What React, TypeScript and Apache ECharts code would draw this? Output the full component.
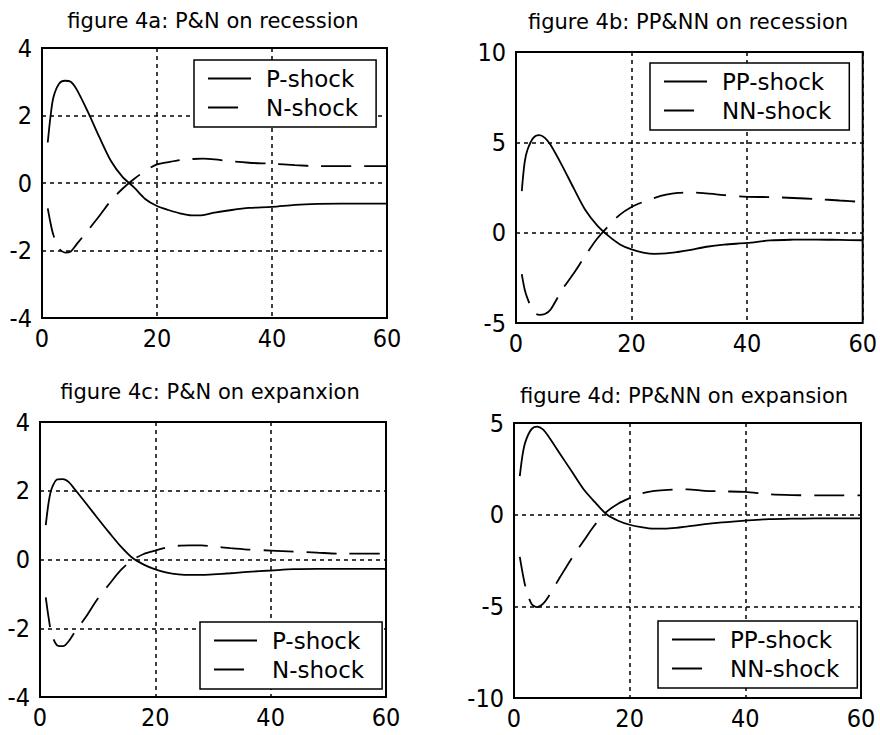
import React, { useEffect, useRef } from "react";
import * as echarts from "echarts";

// horizons (x values) at which the impulse responses are read
const horizon = [1, 1.5, 2, 3, 4, 5, 6, 8, 10, 12, 14, 16, 18, 20, 22, 24, 26, 28, 30, 33, 36, 40, 44, 48, 52, 56, 60];

// figure 4a: P&N on recession
const aPShock = [1.2, 2.0, 2.55, 2.95, 3.03, 3.0, 2.78, 2.1, 1.35, 0.65, 0.18, -0.13, -0.48, -0.68, -0.8, -0.9, -0.96, -0.95, -0.88, -0.8, -0.74, -0.71, -0.65, -0.62, -0.61, -0.61, -0.61];
const aNShock = [-0.75, -1.2, -1.55, -1.95, -2.06, -2.03, -1.82, -1.4, -0.97, -0.52, -0.17, 0.12, 0.36, 0.55, 0.62, 0.68, 0.71, 0.72, 0.7, 0.64, 0.6, 0.57, 0.53, 0.5, 0.5, 0.5, 0.5];

// figure 4b: PP&NN on recession
const bPPShock = [2.3, 3.9, 4.6, 5.25, 5.4, 5.25, 4.85, 3.7, 2.45, 1.25, 0.42, -0.18, -0.65, -0.93, -1.1, -1.17, -1.15, -1.07, -0.97, -0.78, -0.66, -0.57, -0.43, -0.39, -0.38, -0.4, -0.42];
const bNNShock = [-2.3, -3.15, -3.65, -4.35, -4.55, -4.5, -4.25, -3.15, -2.25, -1.27, -0.35, 0.37, 1.0, 1.42, 1.7, 1.93, 2.1, 2.2, 2.23, 2.17, 2.08, 1.98, 1.97, 1.92, 1.86, 1.78, 1.7];

// figure 4c: P&N on expanxion
const cPShock = [1.0, 1.66, 2.05, 2.33, 2.34, 2.25, 2.05, 1.63, 1.2, 0.78, 0.38, 0.05, -0.15, -0.29, -0.38, -0.43, -0.45, -0.45, -0.43, -0.4, -0.36, -0.32, -0.28, -0.27, -0.27, -0.27, -0.27];
const cNShock = [-1.1, -1.7, -2.15, -2.5, -2.52, -2.37, -2.12, -1.66, -1.14, -0.72, -0.31, -0.02, 0.16, 0.26, 0.35, 0.4, 0.41, 0.41, 0.38, 0.33, 0.29, 0.26, 0.23, 0.2, 0.17, 0.17, 0.17];

// figure 4d: PP&NN on expansion
const dPPShock = [2.1, 3.3, 4.0, 4.65, 4.8, 4.65, 4.25, 3.3, 2.35, 1.4, 0.68, 0.02, -0.33, -0.55, -0.68, -0.76, -0.76, -0.72, -0.64, -0.52, -0.42, -0.32, -0.24, -0.22, -0.2, -0.2, -0.2];
const dNNShock = [-2.3, -3.2, -3.95, -4.85, -5.04, -4.87, -4.45, -3.39, -2.37, -1.45, -0.55, 0.15, 0.6, 0.9, 1.15, 1.28, 1.34, 1.37, 1.38, 1.3, 1.27, 1.24, 1.12, 1.07, 1.05, 1.05, 1.05];

const titles = [
  "figure 4a: P&N on recession",
  "figure 4b: PP&NN on recession",
  "figure 4c: P&N on expanxion",
  "figure 4d: PP&NN on expansion",
];
const yRanges = [
  [-4, 4, 2],
  [-5, 10, 5],
  [-4, 4, 2],
  [-10, 5, 5],
];
const xRange = [0, 60, 20];
const seriesNames = [
  ["P-shock", "N-shock"],
  ["PP-shock", "NN-shock"],
  ["P-shock", "N-shock"],
  ["PP-shock", "NN-shock"],
];
const seriesValues = [
  [aPShock, aNShock],
  [bPPShock, bNNShock],
  [cPShock, cNShock],
  [dPPShock, dNNShock],
];

// layout (pixels)
const grids = [
  { left: 42, top: 48, width: 345, height: 270 },
  { left: 516, top: 52, width: 347, height: 271 },
  { left: 40, top: 422, width: 346, height: 275 },
  { left: 514, top: 423, width: 347, height: 275 },
];
const titlePos = [
  { x: 213, y: 21 },
  { x: 688, y: 22 },
  { x: 210, y: 392 },
  { x: 684, y: 396 },
];
const legendPos = [
  { left: 194, top: 60 },
  { left: 650, top: 63 },
  { left: 200, top: 622 },
  { left: 658, top: 621 },
];

const FONT = "DejaVu Sans";
const TICK_FONT = "'Liberation Sans Narrow', 'DejaVu Sans Condensed', 'DejaVu Sans'";
const INK = "#000";

export default function App() {
  const ref = useRef<HTMLDivElement>(null);
  useEffect(() => {
    if (!ref.current) return;
    const chart = echarts.init(ref.current, undefined, { renderer: "svg" });
    const option: any = {
      animation: false,
      backgroundColor: "#fff",
      graphic: titles.map((t, i) => ({
        type: "text",
        x: titlePos[i].x,
        y: titlePos[i].y,
        silent: true,
        style: {
          text: t,
          fill: INK,
          fontFamily: FONT,
          fontSize: 21,
          align: "center",
          verticalAlign: "middle",
        },
      })),
      grid: grids.map((g) => ({ ...g, show: true, borderColor: INK, borderWidth: 2, backgroundColor: "#fff" })),
      xAxis: grids.map((_, i) => ({
        type: "value",
        gridIndex: i,
        min: xRange[0],
        max: xRange[1],
        interval: xRange[2],
        axisLine: { show: false },
        axisTick: { show: false },
        axisLabel: { color: INK, fontFamily: TICK_FONT, fontSize: 25, margin: 8 },
        splitLine: { show: true, lineStyle: { color: INK, type: [4, 4], width: 1.5 } },
      })),
      yAxis: grids.map((_, i) => ({
        type: "value",
        gridIndex: i,
        min: yRanges[i][0],
        max: yRanges[i][1],
        interval: yRanges[i][2],
        axisLine: { show: false },
        axisTick: { show: false },
        axisLabel: { color: INK, fontFamily: TICK_FONT, fontSize: 25, margin: 10 },
        splitLine: { show: true, lineStyle: { color: INK, type: [4, 4], width: 1.5 } },
      })),
      legend: legendPos.map((p, i) => ({
        data: seriesNames[i],
        left: p.left,
        top: p.top,
        orient: "vertical",
        selectedMode: false,
        backgroundColor: "#fff",
        borderColor: INK,
        borderWidth: 1.5,
        borderRadius: 0,
        padding: [7, 18, 8, 13],
        itemGap: 6,
        itemWidth: 43,
        itemHeight: 14,
        itemStyle: { opacity: 0, color: "rgba(0,0,0,0)", borderWidth: 0 },
        textStyle: { color: INK, fontFamily: FONT, fontSize: 23, padding: [0, 0, 0, 10] },
      })),
      series: seriesValues.flatMap((pair, i) =>
        pair.map((vals, k) => ({
          type: "line",
          name: seriesNames[i][k],
          xAxisIndex: i,
          yAxisIndex: i,
          data: horizon.map((x, j) => [x, vals[j]]),
          smooth: 0.3,
          symbol: "none",
          showSymbol: false,
          lineStyle: { color: INK, width: 1.8, type: k === 0 ? "solid" : [30, 13] },
          itemStyle: { color: INK },
        }))
      ),
    };
    chart.setOption(option);
    return () => chart.dispose();
  }, []);
  return (
    <div
      ref={ref}
      style={{ position: "absolute", left: 0, top: 0, width: 880, height: 735, background: "#fff" }}
    />
  );
}
